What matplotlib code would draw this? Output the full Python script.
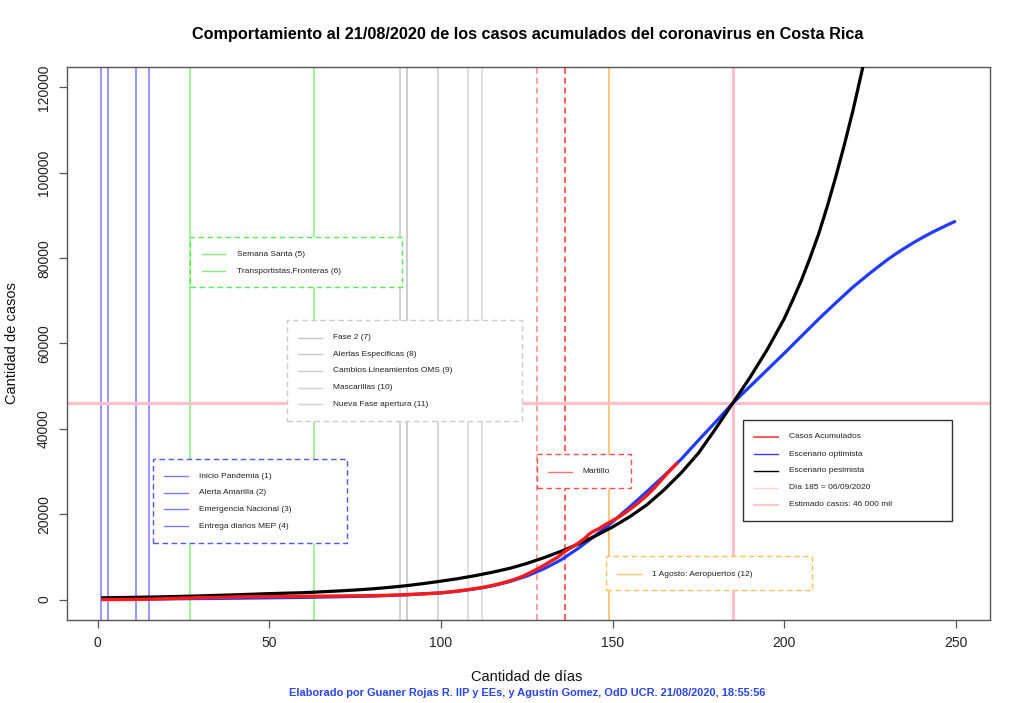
import matplotlib
matplotlib.use("Agg")
import matplotlib.pyplot as plt
from matplotlib.patches import Rectangle
from matplotlib.lines import Line2D

plt.rcParams['font.family'] = ['Liberation Sans', 'DejaVu Sans']

# ---------------- data ----------------
casos_dias = [1, 5, 10, 15, 20, 25, 30, 35, 40, 45, 50, 55, 60, 65, 70, 75, 80, 85, 90, 95,
              100, 103, 106, 109, 112, 115, 118, 121, 124, 127, 130, 132, 134, 136, 138, 140,
              142, 143, 144, 146, 148, 150, 152, 154, 156, 158, 160, 162, 164, 166, 168, 169]
casos_val = [1, 5, 27, 69, 201, 330, 435, 502, 595, 655, 687, 719, 755, 792, 830, 866, 911, 1000,
             1150, 1350, 1560, 1800, 2100, 2450, 2800, 3300, 3900, 4600, 5500, 6700, 8000, 9000,
             9900, 11200, 12200, 13200, 14400, 15200, 15800, 16600, 17600, 18500, 19400, 20500,
             21700, 23000, 24400, 26000, 27800, 29600, 31300, 32100]

opt_dias = [1, 20, 40, 60, 80, 90, 100, 105, 110, 115, 120, 125, 130, 135, 140, 145, 150, 155,
            160, 165, 170, 175, 180, 185, 190, 195, 200, 205, 210, 215, 220, 225, 230, 232.5, 235,
            237.5, 240, 242.5, 245, 247.5, 250]
opt_val = [50, 150, 300, 500, 800, 1100, 1550, 1950, 2500, 3200, 4200, 5500, 7200, 9300, 12000,
           15000, 18200, 21700, 25300, 29000, 32900, 37300, 41600, 46000, 49900, 53800, 57700,
           61700, 65700, 69500, 73200, 76500, 79600, 81000, 82300, 83550, 84700, 85800, 86800,
           87770, 88700]

pes_dias = [1, 10, 20, 30, 40, 50, 60, 65, 70, 75, 80, 85, 90, 95, 100, 105, 110, 115, 120, 125,
            130, 135, 140, 145, 150, 155, 160, 165, 170, 175, 180, 185, 190, 195, 200, 202.5, 205,
            207.5, 210, 212.5, 215, 217.5, 220, 222.5, 225]
pes_val = [400, 500, 650, 850, 1100, 1380, 1600, 1800, 2000, 2230, 2500, 2850, 3250, 3750, 4300,
           4900, 5600, 6400, 7300, 8450, 9800, 11300, 13000, 14900, 17000, 19400, 22200, 25700,
           29700, 34300, 40000, 46000, 52000, 58500, 65800, 70200, 74800, 80000, 85600, 92000,
           99000, 106500, 114500, 123300, 132500]

eventos_azul = [1, 3, 11, 15]
eventos_verde = [27, 63]
eventos_gris = [88, 90, 99, 108, 112]
eventos_rojo = [128, 136]
evento_naranja = 149
dia_estimado = 185
casos_estimados = 46000

x_ticks = [0, 50, 100, 150, 200, 250]
y_ticks = [0, 20000, 40000, 60000, 80000, 100000, 120000]

leg_azul = ["Inicio Pandemia (1)", "Alerta Amarilla (2)", "Emergencia Nacional (3)", "Entrega diarios MEP (4)"]
leg_verde = ["Semana Santa (5)", "Transportistas,Fronteras (6)"]
leg_gris = ["Fase 2 (7)", "Alertas Especificas (8)", "Cambios Lineamientos OMS (9)", "Mascarillas (10)", "Nueva Fase apertura (11)"]
leg_rojo = ["Martillo"]
leg_naranja = ["1 Agosto: Aeropuertos (12)"]
leg_main = ["Casos Acumulados", "Escenario optimista", "Escenario pesimista",
            "Día 185 = 06/09/2020", "Estimado casos: 46 000 mil"]

titulo = "Comportamiento al 21/08/2020 de los casos acumulados del coronavirus en Costa Rica"
pie = "Elaborado por Guaner Rojas R. IIP y EEs, y Agustín Gomez, OdD UCR. 21/08/2020, 18:55:56"

# ---------------- figure ----------------
W, H = 1024, 703
fig = plt.figure(figsize=(W / 100, H / 100), dpi=100)
ax = fig.add_axes([67 / W, 1 - 620 / H, (990 - 67) / W, (620 - 67) / H])

c_blue_ev = '#7b7bff'
c_green_ev = '#86ee76'
c_gray_ev = ['#c8c8c8', '#c0c0c0', '#cccccc', '#d6d6d6', '#d6d6d6']
c_red_ev = ['#ff8888', '#ff3030']
c_orange = '#ffc46a'
c_pink = '#ffc0cb'

for d in eventos_azul:
    ax.axvline(d, color=c_blue_ev, lw=1.1, zorder=1)
for d in eventos_verde:
    ax.axvline(d, color=c_green_ev, lw=1.1, zorder=1)
for d, c in zip(eventos_gris, c_gray_ev):
    ax.axvline(d, color=c, lw=1.1, zorder=1)
for d, c in zip(eventos_rojo, c_red_ev):
    ax.axvline(d, color=c, lw=1.1, ls=(0, (4, 2.5)), zorder=1)
ax.axvline(evento_naranja, color=c_orange, lw=1.3, zorder=1)
ax.axvline(dia_estimado, color=c_pink, lw=2.3, zorder=1.5)
ax.axhline(casos_estimados, color=c_pink, lw=2.3, zorder=1.5)

ax.plot(opt_dias, opt_val, color='#1f3cff', lw=2.3, zorder=3, solid_capstyle='butt')
ax.plot(pes_dias, pes_val, color='black', lw=2.3, zorder=4, solid_capstyle='butt')
ax.plot(casos_dias, casos_val, color='#ff1a1a', lw=2.4, zorder=5, solid_capstyle='butt')

ax.set_xlim(-8.96, 259.96)
ax.set_ylim(-4800, 124800)
ax.set_xticks(x_ticks)
ax.set_yticks(y_ticks)
ax.set_xticklabels([str(v) for v in x_ticks])
ax.set_yticklabels([str(v) for v in y_ticks], rotation=90, va='center')
for s in ax.spines.values():
    s.set_color('#555555')
    s.set_linewidth(1.0)
ax.tick_params(direction='out', length=5.5, width=0.9, color='#555555', labelsize=10,
               labelcolor='#222222', pad=6)

fig.text(12 / W, 1 - 343 / H, "Cantidad de casos", rotation=90, ha='center', va='center',
         fontsize=10.5, color='#111111')
fig.text(527 / W, 1 - 677 / H, "Cantidad de días", ha='center', va='center',
         fontsize=10.5, color='#111111')
fig.text(528 / W, 1 - 35 / H, titulo, ha='center', va='center', fontsize=11.7,
         fontweight='bold', color='black')
fig.text(527 / W, 1 - 693 / H, pie, ha='center', va='center', fontsize=7.9,
         fontweight='bold', color='#2a45f0')


def legend_box(x0, y0, x1, y1, rows_y, lx0, lx1, tx, labels, colors, edge, ls, lws):
    tf = fig.transFigure
    rect = Rectangle((x0 / W, 1 - y1 / H), (x1 - x0) / W, (y1 - y0) / H, transform=tf,
                     facecolor='white', edgecolor=edge, linestyle=ls, lw=1.0, zorder=10)
    ax.add_artist(rect)
    rect.set_clip_on(False)
    for yy, lab, col, lw in zip(rows_y, labels, colors, lws):
        ln = Line2D([lx0 / W, lx1 / W], [1 - yy / H, 1 - yy / H], transform=tf,
                    color=col, lw=lw, zorder=11)
        ln.set_clip_on(False)
        ax.add_artist(ln)
        ax.text(tx / W, 1 - yy / H, lab, transform=tf, fontsize=6, color='#222222',
                ha='left', va='center', zorder=12, clip_on=False)


dash = (0, (4, 2.5))
legend_box(190, 237, 402, 287, [254, 271.3], 201.7, 225, 236.7, leg_verde,
           [c_green_ev] * 2, '#55ee55', dash, [1.0] * 2)
legend_box(287, 320, 522, 421, [337.7, 354.3, 371, 387.7, 404.3], 297.7, 321.7, 332.7, leg_gris,
           ['#c4c4c4', '#c8c8c8', '#cccccc', '#d2d2d2', '#d2d2d2'], '#cccccc', dash, [1.0] * 5)
legend_box(153, 459, 347, 542.5, [476, 492.7, 509.3, 526], 164, 187.7, 199, leg_azul,
           [c_blue_ev] * 4, '#5555ff', dash, [1.0] * 4)
legend_box(537, 454, 631, 487.5, [471.7], 548.3, 571.7, 582.7, leg_rojo,
           ['#ff7070'], '#ff5050', dash, [1.0])
legend_box(606, 556, 812, 590, [574], 617.3, 640.7, 652, leg_naranja,
           [c_orange], '#ffc060', dash, [1.0])
legend_box(743, 420, 952, 521, [437, 454, 470.7, 487.7, 504.7], 754.3, 777.7, 788.7, leg_main,
           ['#ff5a5a', '#3a3aff', 'black', '#ffd3da', '#ffc8d2'], '#333333', '-',
           [1.4, 1.0, 1.0, 1.0, 1.6])

fig.savefig("out.png", dpi=100)
